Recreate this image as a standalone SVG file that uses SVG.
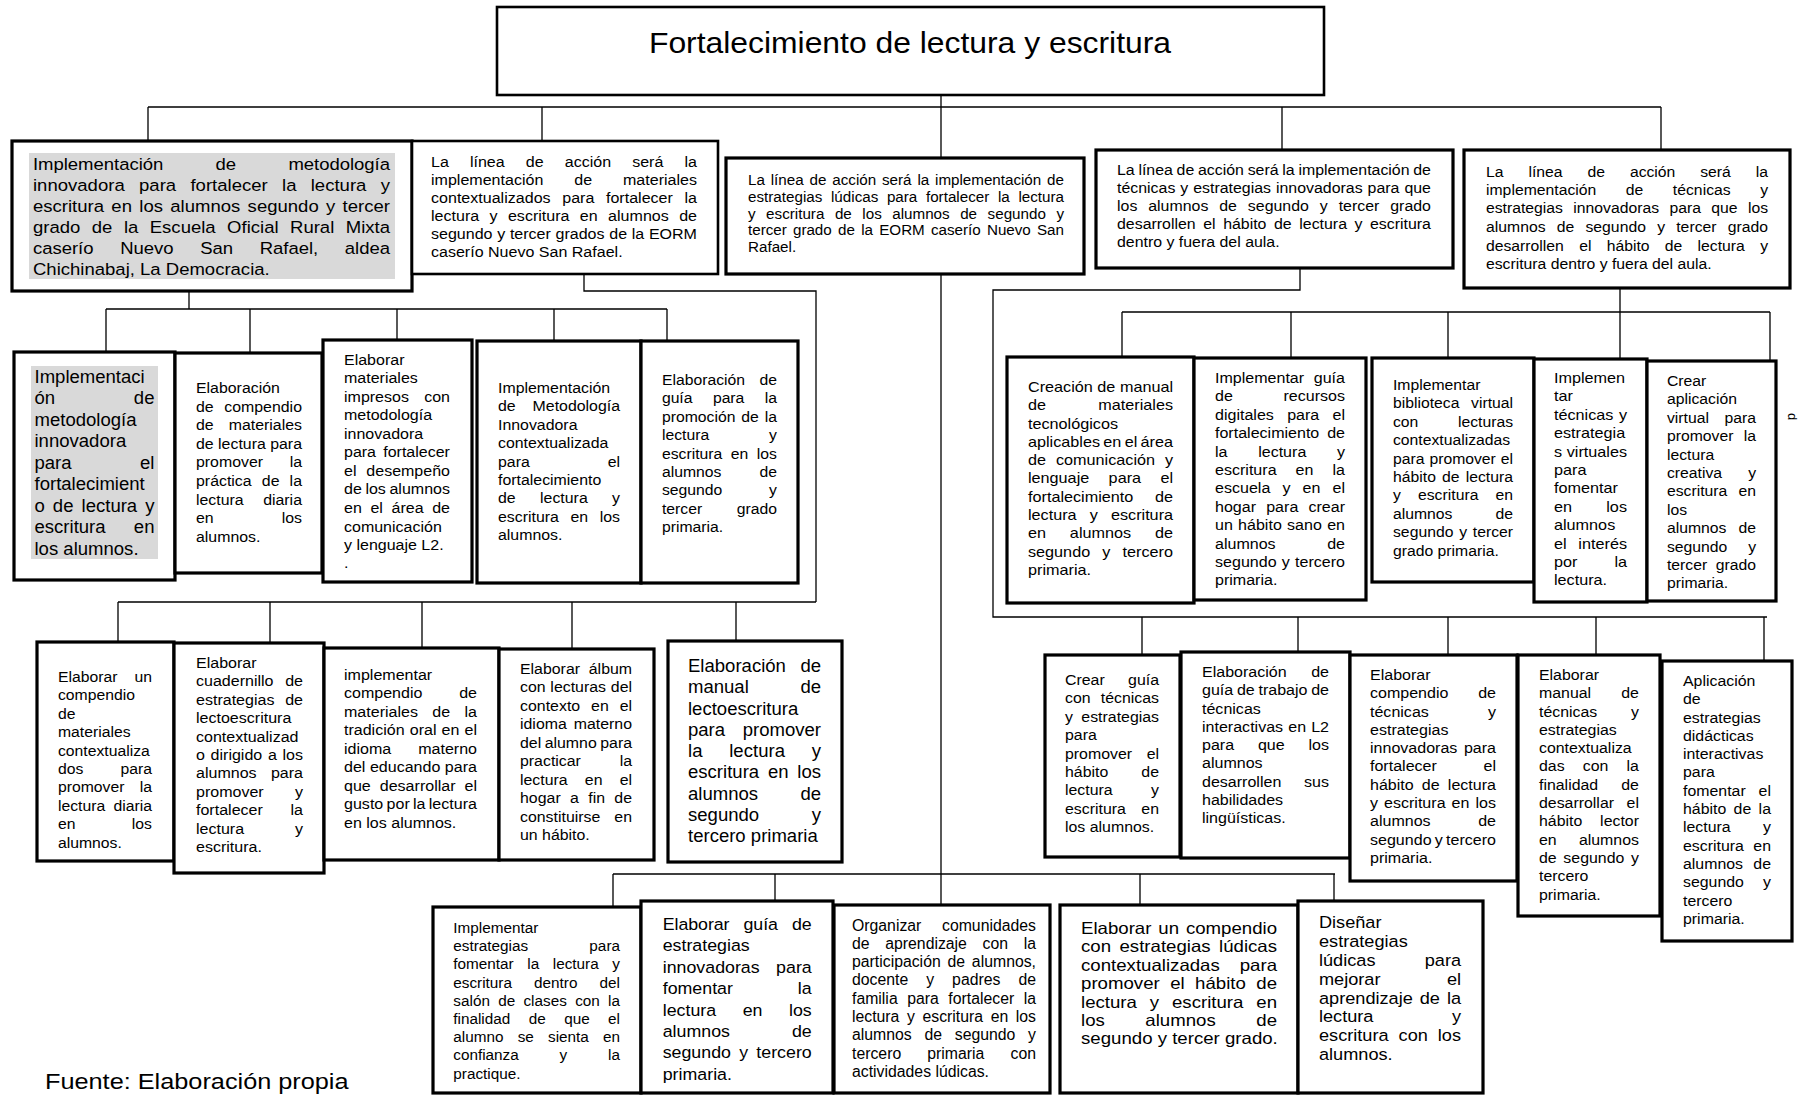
<svg xmlns="http://www.w3.org/2000/svg" width="1803" height="1095" viewBox="0 0 1803 1095">
<style>
.box{fill:#fff;stroke:#000;stroke-width:2.6}
.bx3{stroke-width:3.2}
.hl{fill:#d9d9d9}
.ln{fill:none;stroke:#000;stroke-width:1.3}
text{font-family:"Liberation Sans",Arial,sans-serif;fill:#000}
.e{text-anchor:end}
</style>
<rect width="1803" height="1095" fill="#fff"/>
<g id="connectors" class="ln">
<path d="M148 107H1661 M148 107V141 M542 107V141 M941 95V905 M1282 107V150 M1661 107V150"/>
<path d="M189 291V309 M106 309H667 M106 309V352 M250 309V353 M397 309V340 M554 309V341 M667 309V341"/>
<path d="M584 274V291H816V602 M118 602H816 M118 602V642 M270 602V643 M422 602V648 M572 602V649 M736 602V641"/>
<path d="M1300 268V290H993V617H1767 M1142 617V655 M1298 617V652 M1448 617V655 M1596 617V655 M1764 617V661"/>
<path d="M1620 288V359 M1122 312H1770 M1122 312V357 M1291 312V358 M1448 312V358 M1770 312V361"/>
<path d="M613 874H1335 M613 874V907 M775 874V901 M1140 874V905 M1334 874V901"/>
</g>

<g id="n-title"><rect class="box" x="497" y="7" width="827" height="88"/>
<g transform="translate(910 0) scale(1.08 1)"><text y="53" font-size="29.5" text-anchor="middle">Fortalecimiento de lectura y escritura</text></g></g>

<g id="n-b1"><rect class="box bx3" x="12" y="141" width="400" height="150"/><rect class="hl" x="29" y="153" width="366" height="126"/>
<g transform="translate(33 0) scale(1.09 1)" font-size="17">
<text y="170" textLength="327.5" style="word-spacing:43.3px">Implementación de metodología</text>
<text y="191" textLength="327.5" style="word-spacing:8.4px">innovadora para fortalecer la lectura y</text>
<text y="212" textLength="327.5" style="word-spacing:2px">escritura en los alumnos segundo y tercer</text>
<text y="233" textLength="327.5" style="word-spacing:5.8px">grado de la Escuela Oficial Rural Mixta</text>
<text y="254" textLength="327.5" style="word-spacing:19.8px">caserío Nuevo San Rafael, aldea</text>
<text y="275">Chichinabaj, La Democracia.</text>
</g></g>

<g id="n-b2"><rect class="box" x="412" y="141" width="306" height="133"/>
<g transform="translate(431 0) scale(1.07 1)" font-size="15">
<text y="167" textLength="248.6" style="word-spacing:15.7px">La línea de acción será la</text>
<text y="185" textLength="248.6" style="word-spacing:24.7px">implementación de materiales</text>
<text y="203" textLength="248.6" style="word-spacing:6.7px">contextualizados para fortalecer la</text>
<text y="221" textLength="248.6" style="word-spacing:5.5px">lectura y escritura en alumnos de</text>
<text y="239" textLength="248.6" style="word-spacing:0.2px">segundo y tercer grados de la EORM</text>
<text y="257">caserío Nuevo San Rafael.</text>
</g></g>

<g id="n-b3"><rect class="box bx3" x="726" y="158" width="358" height="116"/>
<g transform="translate(748 0)" font-size="15.2">
<text y="185" textLength="316" style="word-spacing:1.7px">La línea de acción será la implementación de</text>
<text y="202" textLength="316" style="word-spacing:4.4px">estrategias lúdicas para fortalecer la lectura</text>
<text y="218.5" textLength="316" style="word-spacing:6.3px">y escritura de los alumnos de segundo y</text>
<text y="235" textLength="316" style="word-spacing:2.1px">tercer grado de la EORM caserío Nuevo San</text>
<text y="252">Rafael.</text>
</g></g>

<g id="n-b4"><rect class="box bx3" x="1096" y="150" width="357" height="118"/>
<g transform="translate(1117 0) scale(1.04 1)" font-size="15.3">
<text y="175" textLength="301.9" style="word-spacing:-0.6px">La línea de acción será la implementación de</text>
<text y="193" textLength="301.9" style="word-spacing:0.5px">técnicas y estrategias innovadoras para que</text>
<text y="211" textLength="301.9" style="word-spacing:6.2px">los alumnos de segundo y tercer grado</text>
<text y="229" textLength="301.9" style="word-spacing:3px">desarrollen el hábito de lectura y escritura</text>
<text y="247.5">dentro y fuera del aula.</text>
</g></g>

<g id="n-b5"><rect class="box bx3" x="1464" y="150" width="326" height="138"/>
<g transform="translate(1486 0) scale(1.05 1)" font-size="15">
<text y="177" textLength="268.6" style="word-spacing:19.7px">La línea de acción será la</text>
<text y="195" textLength="268.6" style="word-spacing:23.9px">implementación de técnicas y</text>
<text y="213" textLength="268.6" style="word-spacing:5.7px">estrategias innovadoras para que los</text>
<text y="232" textLength="268.6" style="word-spacing:6.5px">alumnos de segundo y tercer grado</text>
<text y="251" textLength="268.6" style="word-spacing:10.4px">desarrollen el hábito de lectura y</text>
<text y="269">escritura dentro y fuera del aula.</text>
</g></g>

<g id="n-a1"><rect class="box bx3" x="14" y="352" width="161" height="228"/><rect class="hl" x="31" y="366" width="127" height="193"/>
<g transform="translate(34.5 0) scale(1.06 1)" font-size="17.5">
<text y="383">Implementaci</text>
<text y="404.5">ón</text><text x="113.2" y="404.5" class="e">de</text>
<text y="426">metodología</text>
<text y="447.5">innovadora</text>
<text y="469">para</text><text x="113.2" y="469" class="e">el</text>
<text y="490.5">fortalecimient</text>
<text y="512" textLength="113.2" style="word-spacing:2.7px">o de lectura y</text>
<text y="533.5">escritura</text><text x="113.2" y="533.5" class="e">en</text>
<text y="555">los alumnos.</text>
</g></g>

<g id="n-a2"><rect class="box bx3" x="175" y="353" width="147" height="220"/>
<g transform="translate(196 0) scale(1.06 1)" font-size="15">
<text y="393">Elaboración</text>
<text y="411.6">de</text><text x="100" y="411.6" class="e">compendio</text>
<text y="430.2">de</text><text x="100" y="430.2" class="e">materiales</text>
<text y="448.8" textLength="100">de lectura para</text>
<text y="467.4">promover</text><text x="100" y="467.4" class="e">la</text>
<text y="486" textLength="100" style="word-spacing:5.4px">práctica de la</text>
<text y="504.6">lectura</text><text x="100" y="504.6" class="e">diaria</text>
<text y="523.2">en</text><text x="100" y="523.2" class="e">los</text>
<text y="541.8">alumnos.</text>
</g></g>

<g id="n-a3"><rect class="box bx3" x="323" y="340" width="149" height="242"/>
<g transform="translate(344 0) scale(1.067 1)" font-size="15">
<text y="365">Elaborar</text>
<text y="383.5">materiales</text>
<text y="402">impresos</text><text x="99.3" y="402" class="e">con</text>
<text y="420.5">metodología</text>
<text y="439">innovadora</text>
<text y="457.5">para</text><text x="99.3" y="457.5" class="e">fortalecer</text>
<text y="476">el</text><text x="99.3" y="476" class="e">desempeño</text>
<text y="494.5" textLength="99.3" style="word-spacing:-0.8px">de los alumnos</text>
<text y="513" textLength="99.3" style="word-spacing:3.9px">en el área de</text>
<text y="531.5">comunicación</text>
<text y="550">y lenguaje L2.</text>
<text y="568.5">.</text>
</g></g>

<g id="n-a4"><rect class="box bx3" x="477" y="341" width="164" height="242"/>
<g transform="translate(498 0) scale(1.06 1)" font-size="15">
<text y="393">Implementación</text>
<text y="411.4">de</text><text x="115.1" y="411.4" class="e">Metodología</text>
<text y="429.8">Innovadora</text>
<text y="448.2">contextualizada</text>
<text y="466.6">para</text><text x="115.1" y="466.6" class="e">el</text>
<text y="485">fortalecimiento</text>
<text y="503.4" textLength="115.1" style="word-spacing:18.8px">de lectura y</text>
<text y="521.8" textLength="115.1" style="word-spacing:6.7px">escritura en los</text>
<text y="540.2">alumnos.</text>
</g></g>

<g id="n-a5"><rect class="box bx3" x="641" y="341" width="157" height="242"/>
<g transform="translate(662 0) scale(1.05 1)" font-size="15">
<text y="385">Elaboración</text><text x="109.5" y="385" class="e">de</text>
<text y="403.4" textLength="109.5" style="word-spacing:15.5px">guía para la</text>
<text y="421.8" textLength="109.5" style="word-spacing:1.4px">promoción de la</text>
<text y="440.2">lectura</text><text x="109.5" y="440.2" class="e">y</text>
<text y="458.6" textLength="109.5" style="word-spacing:3.9px">escritura en los</text>
<text y="477">alumnos</text><text x="109.5" y="477" class="e">de</text>
<text y="495.4">segundo</text><text x="109.5" y="495.4" class="e">y</text>
<text y="513.8">tercer</text><text x="109.5" y="513.8" class="e">grado</text>
<text y="532.2">primaria.</text>
</g></g>

<g id="n-r1"><rect class="box bx3" x="1007" y="357" width="187" height="246"/>
<g transform="translate(1028 0) scale(1.08 1)" font-size="15">
<text y="392" textLength="134.3">Creación de manual</text>
<text y="410.3">de</text><text x="134.3" y="410.3" class="e">materiales</text>
<text y="428.6">tecnológicos</text>
<text y="446.9" textLength="134.3" style="word-spacing:-1.1px">aplicables en el área</text>
<text y="465.2" textLength="134.3" style="word-spacing:5px">de comunicación y</text>
<text y="483.5" textLength="134.3" style="word-spacing:13.8px">lenguaje para el</text>
<text y="501.8">fortalecimiento</text><text x="134.3" y="501.8" class="e">de</text>
<text y="520.1" textLength="134.3" style="word-spacing:8px">lectura y escritura</text>
<text y="538.4" textLength="134.3" style="word-spacing:17.9px">en alumnos de</text>
<text y="556.7" textLength="134.3" style="word-spacing:7.1px">segundo y tercero</text>
<text y="575">primaria.</text>
</g></g>

<g id="n-r2"><rect class="box bx3" x="1194" y="358" width="172" height="242"/>
<g transform="translate(1215 0) scale(1.07 1)" font-size="15">
<text y="383">Implementar</text><text x="121.5" y="383" class="e">guía</text>
<text y="401.4">de</text><text x="121.5" y="401.4" class="e">recursos</text>
<text y="419.8" textLength="121.5" style="word-spacing:8.2px">digitales para el</text>
<text y="438.2">fortalecimiento</text><text x="121.5" y="438.2" class="e">de</text>
<text y="456.6" textLength="121.5" style="word-spacing:24.5px">la lectura y</text>
<text y="475" textLength="121.5" style="word-spacing:13.6px">escritura en la</text>
<text y="493.4" textLength="121.5" style="word-spacing:7.1px">escuela y en el</text>
<text y="511.8" textLength="121.5" style="word-spacing:5.3px">hogar para crear</text>
<text y="530.2" textLength="121.5" style="word-spacing:0.8px">un hábito sano en</text>
<text y="548.6">alumnos</text><text x="121.5" y="548.6" class="e">de</text>
<text y="567" textLength="121.5" style="word-spacing:0.7px">segundo y tercero</text>
<text y="585.4">primaria.</text>
</g></g>

<g id="n-r3"><rect class="box bx3" x="1372" y="358" width="162" height="224"/>
<g transform="translate(1393 0) scale(1.05 1)" font-size="15">
<text y="390">Implementar</text>
<text y="408.4">biblioteca</text><text x="114.3" y="408.4" class="e">virtual</text>
<text y="426.8">con</text><text x="114.3" y="426.8" class="e">lecturas</text>
<text y="445.2">contextualizadas</text>
<text y="463.6" textLength="114.3" style="word-spacing:0.5px">para promover el</text>
<text y="482" textLength="114.3" style="word-spacing:1.7px">hábito de lectura</text>
<text y="500.4" textLength="114.3" style="word-spacing:12.1px">y escritura en</text>
<text y="518.8">alumnos</text><text x="114.3" y="518.8" class="e">de</text>
<text y="537.2" textLength="114.3" style="word-spacing:1.3px">segundo y tercer</text>
<text y="555.6">grado primaria.</text>
</g></g>

<g id="n-r4"><rect class="box bx3" x="1534" y="359" width="113" height="243"/>
<g transform="translate(1554 0) scale(1.08 1)" font-size="15">
<text y="383">Implemen</text>
<text y="401.4">tar</text>
<text y="419.8">técnicas</text><text x="67.6" y="419.8" class="e">y</text>
<text y="438.2">estrategia</text>
<text y="456.6">s</text><text x="67.6" y="456.6" class="e">virtuales</text>
<text y="475">para</text>
<text y="493.4">fomentar</text>
<text y="511.8">en</text><text x="67.6" y="511.8" class="e">los</text>
<text y="530.2">alumnos</text>
<text y="548.6">el</text><text x="67.6" y="548.6" class="e">interés</text>
<text y="567">por</text><text x="67.6" y="567" class="e">la</text>
<text y="585.4">lectura.</text>
</g></g>

<g id="n-r5"><rect class="box bx3" x="1647" y="361" width="129" height="240"/>
<g transform="translate(1667 0) scale(1.05 1)" font-size="15">
<text y="386">Crear</text>
<text y="404.4">aplicación</text>
<text y="422.8">virtual</text><text x="84.8" y="422.8" class="e">para</text>
<text y="441.2">promover</text><text x="84.8" y="441.2" class="e">la</text>
<text y="459.6">lectura</text>
<text y="478">creativa</text><text x="84.8" y="478" class="e">y</text>
<text y="496.4">escritura</text><text x="84.8" y="496.4" class="e">en</text>
<text y="514.8">los</text>
<text y="533.2">alumnos</text><text x="84.8" y="533.2" class="e">de</text>
<text y="551.6">segundo</text><text x="84.8" y="551.6" class="e">y</text>
<text y="570">tercer</text><text x="84.8" y="570" class="e">grado</text>
<text y="588.4">primaria.</text>
</g></g>

<g id="n-l1"><rect class="box bx3" x="37" y="642" width="137" height="219"/>
<g transform="translate(58 0) scale(1.05 1)" font-size="15">
<text y="682">Elaborar</text><text x="89.5" y="682" class="e">un</text>
<text y="700.4">compendio</text>
<text y="718.8">de</text>
<text y="737.2">materiales</text>
<text y="755.6">contextualiza</text>
<text y="774">dos</text><text x="89.5" y="774" class="e">para</text>
<text y="792.4">promover</text><text x="89.5" y="792.4" class="e">la</text>
<text y="810.8">lectura</text><text x="89.5" y="810.8" class="e">diaria</text>
<text y="829.2">en</text><text x="89.5" y="829.2" class="e">los</text>
<text y="847.6">alumnos.</text>
</g></g>

<g id="n-l2"><rect class="box bx3" x="174" y="643" width="150" height="230"/>
<g transform="translate(196 0) scale(1.07 1)" font-size="15">
<text y="668">Elaborar</text>
<text y="686.4">cuadernillo</text><text x="100" y="686.4" class="e">de</text>
<text y="704.8">estrategias</text><text x="100" y="704.8" class="e">de</text>
<text y="723.2">lectoescritura</text>
<text y="741.6">contextualizad</text>
<text y="760" textLength="100" style="word-spacing:1.1px">o dirigido a los</text>
<text y="778.4">alumnos</text><text x="100" y="778.4" class="e">para</text>
<text y="796.8">promover</text><text x="100" y="796.8" class="e">y</text>
<text y="815.2">fortalecer</text><text x="100" y="815.2" class="e">la</text>
<text y="833.6">lectura</text><text x="100" y="833.6" class="e">y</text>
<text y="852">escritura.</text>
</g></g>

<g id="n-l3"><rect class="box bx3" x="324" y="648" width="175" height="212"/>
<g transform="translate(344 0) scale(1.07 1)" font-size="15">
<text y="680">implementar</text>
<text y="698.5">compendio</text><text x="124.3" y="698.5" class="e">de</text>
<text y="717" textLength="124.3" style="word-spacing:9.2px">materiales de la</text>
<text y="735.5" textLength="124.3" style="word-spacing:0.6px">tradición oral en el</text>
<text y="754">idioma</text><text x="124.3" y="754" class="e">materno</text>
<text y="772.5" textLength="124.3">del educando para</text>
<text y="791" textLength="124.3" style="word-spacing:4.2px">que desarrollar el</text>
<text y="809.5" textLength="124.3" style="word-spacing:-1.1px">gusto por la lectura</text>
<text y="828">en los alumnos.</text>
</g></g>

<g id="n-l4"><rect class="box bx3" x="499" y="649" width="155" height="211"/>
<g transform="translate(520 0) scale(1.06 1)" font-size="15">
<text y="674">Elaborar</text><text x="105.7" y="674" class="e">álbum</text>
<text y="692.5" textLength="105.7" style="word-spacing:0.3px">con lecturas del</text>
<text y="711" textLength="105.7" style="word-spacing:6.1px">contexto en el</text>
<text y="729.5">idioma</text><text x="105.7" y="729.5" class="e">materno</text>
<text y="748" textLength="105.7" style="word-spacing:-0.9px">del alumno para</text>
<text y="766.5">practicar</text><text x="105.7" y="766.5" class="e">la</text>
<text y="785" textLength="105.7" style="word-spacing:12px">lectura en el</text>
<text y="803.5" textLength="105.7" style="word-spacing:4.6px">hogar a fin de</text>
<text y="822">constituirse</text><text x="105.7" y="822" class="e">en</text>
<text y="840.5">un hábito.</text>
</g></g>

<g id="n-l5"><rect class="box bx3" x="668" y="641" width="174" height="221"/>
<g transform="translate(688 0) scale(1.06 1)" font-size="17.5">
<text y="672">Elaboración</text><text x="125.5" y="672" class="e">de</text>
<text y="693.3">manual</text><text x="125.5" y="693.3" class="e">de</text>
<text y="714.6">lectoescritura</text>
<text y="735.9">para</text><text x="125.5" y="735.9" class="e">promover</text>
<text y="757.2" textLength="125.5" style="word-spacing:20.4px">la lectura y</text>
<text y="778.5" textLength="125.5" style="word-spacing:3.4px">escritura en los</text>
<text y="799.8">alumnos</text><text x="125.5" y="799.8" class="e">de</text>
<text y="821.1">segundo</text><text x="125.5" y="821.1" class="e">y</text>
<text y="842.4">tercero primaria</text>
</g></g>

<g id="n-s1"><rect class="box bx3" x="1045" y="655" width="135" height="202"/>
<g transform="translate(1065 0) scale(1.06 1)" font-size="15">
<text y="685">Crear</text><text x="88.7" y="685" class="e">guía</text>
<text y="703.4">con</text><text x="88.7" y="703.4" class="e">técnicas</text>
<text y="721.8">y</text><text x="88.7" y="721.8" class="e">estrategias</text>
<text y="740.2">para</text>
<text y="758.6">promover</text><text x="88.7" y="758.6" class="e">el</text>
<text y="777">hábito</text><text x="88.7" y="777" class="e">de</text>
<text y="795.4">lectura</text><text x="88.7" y="795.4" class="e">y</text>
<text y="813.8">escritura</text><text x="88.7" y="813.8" class="e">en</text>
<text y="832.2">los alumnos.</text>
</g></g>

<g id="n-s2"><rect class="box bx3" x="1181" y="652" width="169" height="206"/>
<g transform="translate(1202 0) scale(1.07 1)" font-size="15">
<text y="677">Elaboración</text><text x="118.7" y="677" class="e">de</text>
<text y="695.3" textLength="118.7" style="word-spacing:-0.5px">guía de trabajo de</text>
<text y="713.6">técnicas</text>
<text y="731.9" textLength="118.7" style="word-spacing:0.6px">interactivas en L2</text>
<text y="750.2" textLength="118.7" style="word-spacing:18.1px">para que los</text>
<text y="768.5">alumnos</text>
<text y="786.8">desarrollen</text><text x="118.7" y="786.8" class="e">sus</text>
<text y="805.1">habilidades</text>
<text y="823.4">lingüísticas.</text>
</g></g>

<g id="n-s3"><rect class="box bx3" x="1350" y="655" width="167" height="226"/>
<g transform="translate(1370 0) scale(1.07 1)" font-size="15">
<text y="680">Elaborar</text>
<text y="698.3">compendio</text><text x="117.8" y="698.3" class="e">de</text>
<text y="716.6">técnicas</text><text x="117.8" y="716.6" class="e">y</text>
<text y="734.9">estrategias</text>
<text y="753.2">innovadoras</text><text x="117.8" y="753.2" class="e">para</text>
<text y="771.5">fortalecer</text><text x="117.8" y="771.5" class="e">el</text>
<text y="789.8" textLength="117.8" style="word-spacing:3.4px">hábito de lectura</text>
<text y="808.1" textLength="117.8" style="word-spacing:1.5px">y escritura en los</text>
<text y="826.4">alumnos</text><text x="117.8" y="826.4" class="e">de</text>
<text y="844.7" textLength="117.8" style="word-spacing:-1.1px">segundo y tercero</text>
<text y="863">primaria.</text>
</g></g>

<g id="n-s4"><rect class="box bx3" x="1518" y="655" width="142" height="261"/>
<g transform="translate(1539 0) scale(1.06 1)" font-size="15">
<text y="680">Elaborar</text>
<text y="698.3">manual</text><text x="94.3" y="698.3" class="e">de</text>
<text y="716.6">técnicas</text><text x="94.3" y="716.6" class="e">y</text>
<text y="734.9">estrategias</text>
<text y="753.2">contextualiza</text>
<text y="771.5" textLength="94.3" style="word-spacing:12.9px">das con la</text>
<text y="789.8">finalidad</text><text x="94.3" y="789.8" class="e">de</text>
<text y="808.1">desarrollar</text><text x="94.3" y="808.1" class="e">el</text>
<text y="826.4">hábito</text><text x="94.3" y="826.4" class="e">lector</text>
<text y="844.7">en</text><text x="94.3" y="844.7" class="e">alumnos</text>
<text y="863" textLength="94.3" style="word-spacing:2.1px">de segundo y</text>
<text y="881.3">tercero</text>
<text y="899.6">primaria.</text>
</g></g>

<g id="n-s5"><rect class="box bx3" x="1662" y="661" width="130" height="280"/>
<g transform="translate(1683 0) scale(1.06 1)" font-size="15">
<text y="686">Aplicación</text>
<text y="704.3">de</text>
<text y="722.6">estrategias</text>
<text y="740.9">didácticas</text>
<text y="759.2">interactivas</text>
<text y="777.5">para</text>
<text y="795.8">fomentar</text><text x="83" y="795.8" class="e">el</text>
<text y="814.1" textLength="83" style="word-spacing:2.7px">hábito de la</text>
<text y="832.4">lectura</text><text x="83" y="832.4" class="e">y</text>
<text y="850.7">escritura</text><text x="83" y="850.7" class="e">en</text>
<text y="869">alumnos</text><text x="83" y="869" class="e">de</text>
<text y="887.3">segundo</text><text x="83" y="887.3" class="e">y</text>
<text y="905.6">tercero</text>
<text y="923.9">primaria.</text>
</g></g>

<g id="n-m1"><rect class="box bx3" x="433" y="907" width="208" height="186"/>
<g transform="translate(453.3 0)" font-size="15.3">
<text y="933">Implementar</text>
<text y="951.2">estrategias</text><text x="166.7" y="951.2" class="e">para</text>
<text y="969.4" textLength="166.7" style="word-spacing:9.4px">fomentar la lectura y</text>
<text y="987.6" textLength="166.7" style="word-spacing:17.9px">escritura dentro del</text>
<text y="1005.8" textLength="166.7" style="word-spacing:4px">salón de clases con la</text>
<text y="1024" textLength="166.7" style="word-spacing:14.2px">finalidad de que el</text>
<text y="1042.2" textLength="166.7" style="word-spacing:9.9px">alumno se sienta en</text>
<text y="1060.4" textLength="166.7" style="word-spacing:36.6px">confianza y la</text>
<text y="1078.6">practique.</text>
</g></g>

<g id="n-m2"><rect class="box bx3" x="641" y="901" width="192" height="192"/>
<g transform="translate(662.7 0) scale(1.035 1)" font-size="17.2">
<text y="930" textLength="144" style="word-spacing:8.9px">Elaborar guía de</text>
<text y="951.4">estrategias</text>
<text y="972.8">innovadoras</text><text x="144" y="972.8" class="e">para</text>
<text y="994.2">fomentar</text><text x="144" y="994.2" class="e">la</text>
<text y="1015.6" textLength="144" style="word-spacing:20.8px">lectura en los</text>
<text y="1037">alumnos</text><text x="144" y="1037" class="e">de</text>
<text y="1058.4" textLength="144" style="word-spacing:3.2px">segundo y tercero</text>
<text y="1079.8">primaria.</text>
</g></g>

<g id="n-m3"><rect class="box bx3" x="834" y="905" width="216" height="188"/>
<g transform="translate(852 0)" font-size="15.8">
<text y="930.5">Organizar</text><text x="184" y="930.5" class="e">comunidades</text>
<text y="948.8" textLength="184" style="word-spacing:11.3px">de aprendizaje con la</text>
<text y="967.1" textLength="184" style="word-spacing:2.4px">participación de alumnos,</text>
<text y="985.4" textLength="184" style="word-spacing:13.6px">docente y padres de</text>
<text y="1003.7" textLength="184" style="word-spacing:5.1px">familia para fortalecer la</text>
<text y="1022" textLength="184" style="word-spacing:3.2px">lectura y escritura en los</text>
<text y="1040.3" textLength="184" style="word-spacing:8.3px">alumnos de segundo y</text>
<text y="1058.6" textLength="184" style="word-spacing:21.7px">tercero primaria con</text>
<text y="1076.9">actividades lúdicas.</text>
</g></g>

<g id="n-m4"><rect class="box bx3" x="1060" y="905" width="238" height="188"/>
<g transform="translate(1081 0) scale(1.13 1)" font-size="16.5">
<text y="934" textLength="173.5" style="word-spacing:1.5px">Elaborar un compendio</text>
<text y="952.4" textLength="173.5" style="word-spacing:2.9px">con estrategias lúdicas</text>
<text y="970.8">contextualizadas</text><text x="173.5" y="970.8" class="e">para</text>
<text y="989.2" textLength="173.5" style="word-spacing:4.6px">promover el hábito de</text>
<text y="1007.6" textLength="173.5" style="word-spacing:6.8px">lectura y escritura en</text>
<text y="1026" textLength="173.5" style="word-spacing:31.3px">los alumnos de</text>
<text y="1044.4">segundo y tercer grado.</text>
</g></g>

<g id="n-m5"><rect class="box bx3" x="1298" y="901" width="185" height="192"/>
<g transform="translate(1319 0) scale(1.1 1)" font-size="16.5">
<text y="928">Diseñar</text>
<text y="946.9">estrategias</text>
<text y="965.8">lúdicas</text><text x="129.1" y="965.8" class="e">para</text>
<text y="984.7">mejorar</text><text x="129.1" y="984.7" class="e">el</text>
<text y="1003.6" textLength="129.1" style="word-spacing:1.7px">aprendizaje de la</text>
<text y="1022.5">lectura</text><text x="129.1" y="1022.5" class="e">y</text>
<text y="1041.4" textLength="129.1" style="word-spacing:4.5px">escritura con los</text>
<text y="1060.3">alumnos.</text>
</g></g>

<g id="footer"><g transform="translate(45 0) scale(1.15 1)"><text y="1089" font-size="22">Fuente: Elaboración propia</text></g>
<text transform="translate(1788 413) rotate(90)" font-size="13">d</text></g>
</svg>
